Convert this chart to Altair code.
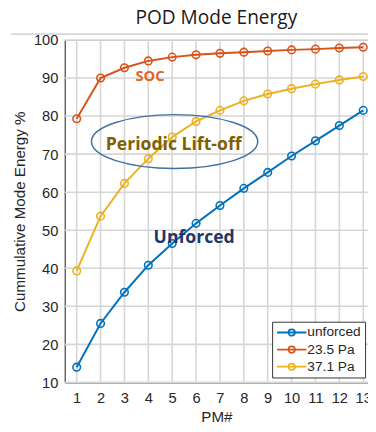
import altair as alt
import pandas as pd

pm = list(range(1, 14))
unforced = [14.0, 25.5, 33.7, 40.8, 46.5, 51.8, 56.5, 61.0, 65.2, 69.5, 73.5, 77.5, 81.5]
pa235 = [79.3, 90.0, 92.7, 94.5, 95.5, 96.1, 96.5, 96.8, 97.1, 97.4, 97.6, 97.9, 98.1]
pa371 = [39.3, 53.7, 62.3, 68.8, 74.5, 78.6, 81.5, 84.0, 85.8, 87.2, 88.4, 89.5, 90.4]
series_names = ["unforced", "23.5 Pa", "37.1 Pa"]
series_colors = ["#0072BD", "#D95319", "#EDB120"]

ann_text = ["SOC", "Periodic Lift-off", "Unforced"]
ann_x = [4.07, 5.06, 5.92]
ann_y = [90.5, 72.5, 47.8]
ann_color = ["#E0652A", "#7F6000", "#203864"]
ann_size = [15, 18, 18]

ell_x = [5.1]
ell_y = [73.3]

x_ticks = list(range(1, 14))
y_ticks = list(range(10, 101, 10))

rows = []
for name, vals in zip(series_names, [unforced, pa235, pa371]):
    for p, v in zip(pm, vals):
        rows.append({"PM": p, "E": v, "series": name})
df = pd.DataFrame(rows)

ann = pd.DataFrame({"PM": ann_x, "E": ann_y, "t": ann_text, "c": ann_color, "s": ann_size})
ell = pd.DataFrame({"PM": ell_x, "E": ell_y})
gx = pd.DataFrame({"PM": x_ticks})
gy = pd.DataFrame({"E": y_ticks})

LF = "Liberation Sans"
TC = "#262626"
GC = "#d6d6d6"

xs = alt.Scale(domain=[0.5, 13.2], nice=False, zero=False)
ys = alt.Scale(domain=[10, 100], nice=False, zero=False)

xaxis = alt.Axis(
    title="PM#", values=x_ticks, format="d", grid=False, ticks=False,
    labelOverlap=False, labelFlush=False,
    labelFont=LF, labelFontSize=15, labelColor=TC, labelPadding=9,
    titleFont=LF, titleFontSize=15.5, titleColor=TC, titleFontWeight="normal",
    titlePadding=4, domainColor="#333333",
)
yaxis = alt.Axis(
    title="Cummulative Mode Energy %", values=y_ticks, format="d",
    grid=False, ticks=False, labelOverlap=False, labelFlush=False,
    labelFont=LF, labelFontSize=15, labelColor=TC, labelPadding=7,
    titleFont=LF, titleFontSize=15.5, titleColor=TC, titleFontWeight="normal",
    titlePadding=6, domainColor="#333333",
)

def X():
    return alt.X("PM:Q", scale=xs, axis=xaxis)

def Y():
    return alt.Y("E:Q", scale=ys, axis=yaxis)

legend_path = "M-1,0L4,0M2.05,0A0.55,0.55,0,1,1,0.95,0A0.55,0.55,0,1,1,2.05,0"

color = alt.Color(
    "series:N",
    scale=alt.Scale(domain=series_names, range=series_colors),
    legend=alt.Legend(
        title=None, orient="none", legendX=212, legendY=288,
        symbolType=legend_path, symbolSize=144, symbolStrokeWidth=1.8,
        symbolFillColor="white", labelOffset=18,
        labelFont=LF, labelFontSize=14, labelColor=TC, labelLimit=200,
        rowPadding=3.5, padding=4, strokeColor="#333333", fillColor="white",
        cornerRadius=0,
    ),
)

gridx = alt.Chart(gx).mark_rule(color=GC, strokeWidth=1.6, opacity=1).encode(
    x=X(), y=alt.value(0), y2=alt.value(350))
gridy = alt.Chart(gy).mark_rule(color=GC, strokeWidth=1.6, opacity=1).encode(
    y=Y(), x=alt.value(0), x2=alt.value(310))

base = alt.Chart(df)
lines = base.mark_line(strokeWidth=2).encode(x=X(), y=Y(), color=color)
points = base.mark_point(filled=False, size=60, strokeWidth=1.6, opacity=1).encode(
    x=X(), y=Y(), color=color)

ellipse = alt.Chart(ell).mark_point(
    shape="M-1,0A1,0.324,0,1,1,1,0A1,0.324,0,1,1,-1,0Z",
    filled=False, color="#41719C", strokeWidth=1.5, opacity=1,
).encode(x=X(), y=Y(), size=alt.value(28900))

texts = alt.Chart(ann).mark_text(font="Open Sans", fontWeight="bold").encode(
    x=X(), y=Y(), text="t:N",
    color=alt.Color("c:N", scale=None), size=alt.Size("s:Q", scale=None),
)

rule = alt.Chart(ell).mark_rule(color="#c8c8c8", strokeWidth=1.5).encode(
    x=alt.value(-55), x2=alt.value(312), y=alt.value(-6))

chart = alt.layer(gridx, gridy, lines, points, ellipse, texts, rule).properties(
    width=310, height=350,
    title=alt.Title("POD Mode Energy", font="Open Sans", fontSize=19.5,
                    fontWeight="normal", color="#1a1a1a", offset=5),
    autosize="none",
    padding={"left": 58, "top": 28, "right": 0, "bottom": 46},
).configure_view(stroke="#bbbbbb", strokeWidth=1)

chart.save("out.html", embed_options={"renderer": "svg", "actions": False})
